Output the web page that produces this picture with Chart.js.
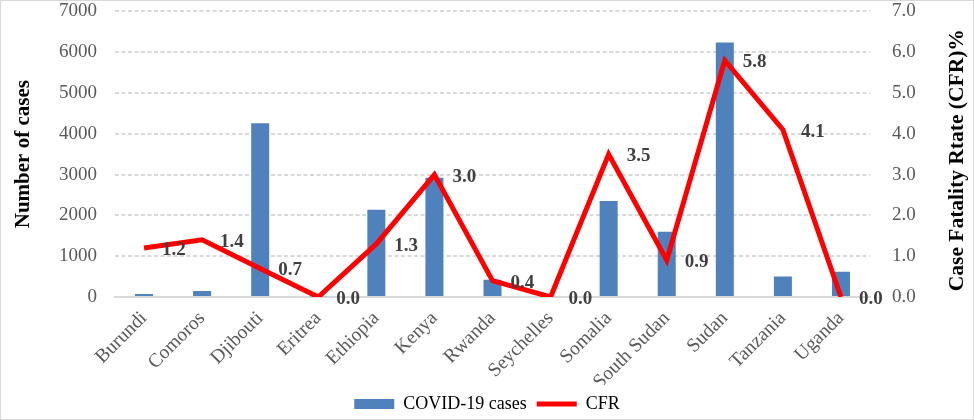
<!DOCTYPE html>
<html>
<head>
<meta charset="utf-8">
<script src="https://cdn.jsdelivr.net/npm/chart.js@4/dist/chart.umd.min.js"></script>
<style>
  html, body { margin: 0; padding: 0; background: #ffffff; }
  #wrap { width: 974px; height: 420px; }
</style>
</head>
<body>
<div id="wrap"><canvas id="c" width="974" height="420"></canvas></div>
<script>
const categories = ["Burundi", "Comoros", "Djibouti", "Eritrea", "Ethiopia", "Kenya", "Rwanda", "Seychelles", "Somalia", "South Sudan", "Sudan", "Tanzania", "Uganda"];
const covidCases = [75, 150, 4260, 20, 2140, 2920, 420, 0, 2350, 1600, 6240, 500, 620];
const cfrValues = [1.2, 1.4, 0.7, 0.0, 1.3, 3.0, 0.4, 0.0, 3.5, 0.9, 5.8, 4.1, 0.0];
const leftTicks = [0, 1000, 2000, 3000, 4000, 5000, 6000, 7000];
const rightTicks = [0, 1, 2, 3, 4, 5, 6, 7];

const SERIF = "'Liberation Serif', 'DejaVu Serif', serif";

const labelPlugin = {
  id: 'cfrLabels',
  afterDatasetsDraw(chart) {
    const ctx = chart.ctx;
    const meta = chart.getDatasetMeta(1);
    ctx.save();
    ctx.font = "bold 19px " + SERIF;
    ctx.fillStyle = '#404040';
    ctx.textAlign = 'left';
    ctx.textBaseline = 'middle';
    meta.data.forEach((pt, i) => {
      ctx.fillText(cfrValues[i].toFixed(1), pt.x + 18, pt.y + 2);
    });
    ctx.restore();
  }
};

const rightTitlePlugin = {
  id: 'rightTitle',
  afterDraw(chart) {
    const ctx = chart.ctx;
    const ca = chart.chartArea;
    ctx.save();
    ctx.translate(957, (ca.top + ca.bottom) / 2 + 6);
    ctx.rotate(-Math.PI / 2);
    ctx.font = "bold 21.5px " + SERIF;
    ctx.fillStyle = '#000000';
    ctx.textAlign = 'center';
    ctx.textBaseline = 'middle';
    ctx.fillText('Case Fatality Rtate (CFR)%', 0, 0);
    ctx.restore();
  }
};

const bgPlugin = {
  id: 'bg',
  beforeDraw(chart) {
    const ctx = chart.ctx;
    ctx.save();
    ctx.fillStyle = '#ffffff';
    ctx.fillRect(0, 0, chart.width, chart.height);
    ctx.strokeStyle = '#d9d9d9';
    ctx.lineWidth = 1;
    ctx.strokeRect(0.5, 0.5, chart.width - 1, chart.height - 1);
    ctx.restore();
  }
};

new Chart(document.getElementById('c'), {
  type: 'bar',
  data: {
    labels: categories,
    datasets: [
      {
        type: 'bar',
        label: 'COVID-19 cases',
        data: covidCases,
        backgroundColor: '#4f81bd',
        borderWidth: 0,
        yAxisID: 'y',
        order: 1,
        barPercentage: 0.31,
        categoryPercentage: 1.0
      },
      {
        type: 'line',
        label: 'CFR',
        data: cfrValues,
        borderColor: '#ff0000',
        backgroundColor: '#ff0000',
        borderWidth: 5,
        pointRadius: 0,
        pointHoverRadius: 0,
        tension: 0,
        fill: false,
        yAxisID: 'y1',
        order: 0
      }
    ]
  },
  options: {
    responsive: false,
    animation: false,
    devicePixelRatio: 1,
    layout: { padding: { top: 0, left: 0, right: 0, bottom: -3 } },
    plugins: {
      tooltip: { enabled: false },
      legend: {
        position: 'bottom',
        labels: {
          font: { family: SERIF, size: 18 },
          color: '#000000',
          usePointStyle: true,
          pointStyleWidth: 40,
          boxHeight: 10,
          padding: 10,
          sort: (a, b) => a.datasetIndex - b.datasetIndex,
          generateLabels(chart) {
            const items = Chart.defaults.plugins.legend.labels.generateLabels(chart);
            items.forEach(it => {
              if (it.datasetIndex === 0) {
                it.pointStyle = 'rect';
                it.fillStyle = '#4f81bd';
                it.strokeStyle = '#4f81bd';
                it.lineWidth = 0;
              } else {
                it.pointStyle = 'line';
                it.strokeStyle = '#ff0000';
                it.lineWidth = 5;
              }
            });
            return items;
          }
        }
      }
    },
    scales: {
      x: {
        grid: { display: false },
        border: { display: true, color: '#d9d9d9', width: 2 },
        ticks: {
          font: { family: SERIF, size: 19.5 },
          color: '#595959',
          maxRotation: 45,
          minRotation: 45,
          padding: 2
        },
        afterFit(scale) { scale.height = 88; }
      },
      y: {
        position: 'left',
        min: 0,
        max: 7000,
        afterBuildTicks(scale) { scale.ticks = leftTicks.map(v => ({ value: v })); },
        grid: { color: '#d9d9d9', lineWidth: 2, drawTicks: true, tickLength: 18, tickColor: 'rgba(0,0,0,0)' },
        border: { display: false, dash: [4, 2.5] },
        ticks: {
          font: { family: SERIF, size: 19 },
          color: '#595959',
          padding: 0,
          callback: (v) => String(v)
        },
        title: {
          display: true,
          text: 'Number of cases',
          font: { family: SERIF, size: 21, weight: 'bold' },
          color: '#000000',
          padding: { top: 11, bottom: 0 }
        },
        afterFit(scale) { scale.width = 115; }
      },
      y1: {
        position: 'right',
        min: 0,
        max: 7,
        afterBuildTicks(scale) { scale.ticks = rightTicks.map(v => ({ value: v })); },
        grid: { drawOnChartArea: false, drawTicks: true, tickLength: 22, tickColor: 'rgba(0,0,0,0)' },
        border: { display: false },
        ticks: {
          font: { family: SERIF, size: 19 },
          color: '#595959',
          padding: 0,
          callback: (v) => Number(v).toFixed(1)
        },
        afterFit(scale) { scale.width = 104; }
      }
    }
  },
  plugins: [bgPlugin, labelPlugin, rightTitlePlugin]
});
</script>
</body>
</html>
